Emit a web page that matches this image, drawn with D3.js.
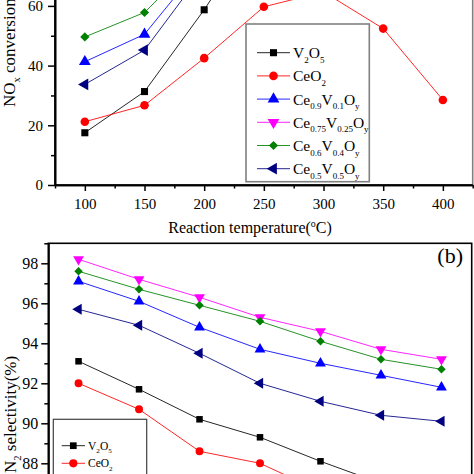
<!DOCTYPE html>
<html><head><meta charset="utf-8">
<script src="https://cdn.jsdelivr.net/npm/d3@7"></script>
<style>html,body{margin:0;padding:0;background:#fff;overflow:hidden}svg{display:block}</style>
</head><body><svg id="c" width="474" height="474"></svg>
<script>
// ---------- data ----------
const temps = [100, 150, 200, 250, 300, 350, 400];
const seriesNames = ["V_{2}O_{5}", "CeO_{2}", "Ce_{0.9}V_{0.1}O_{y}", "Ce_{0.75}V_{0.25}O_{y}", "Ce_{0.6}V_{0.4}O_{y}", "Ce_{0.5}V_{0.5}O_{y}"];
const seriesColors = ["#000000", "#ff0000", "#0000ff", "#ff00ff", "#008000", "#000080"];
const seriesSymbols = ["square", "circle", "triUp", "triDown", "diamond", "triLeft"];

// (a) NOx conversion (%)
const noxV2O5   = [17.5, 31.3, 58.7, 89, 97, 99, 98];
const noxCeO2   = [21.2, 26.7, 42.5, 59.7, 64.7, 52.4, 28.5];
const noxCe09   = [41.3, 50.5, 75, 90, 96, 95, 90];
const noxCe075  = [68, 82, 94, 99, 100, 99, 96];
const noxCe06   = [49.6, 57.8, 77.6, 93, 98, 97, 93];
const noxCe05   = [33.7, 45.2, 72, 88, 94, 92, 85];

// (b) N2 selectivity (%)
const selV2O5   = [93.1, 91.7, 90.2, 89.3, 88.1, 87.0, 86.2];
const selCeO2   = [92.0, 90.7, 88.6, 88.0, 86.6, 85.6, 84.9];
const selCe09   = [97.1, 96.1, 94.8, 93.7, 93.0, 92.4, 91.8];
const selCe075  = [98.2, 97.2, 96.3, 95.3, 94.6, 93.7, 93.2];
const selCe06   = [97.6, 96.7, 95.9, 95.1, 94.1, 93.2, 92.7];
const selCe05   = [95.7, 94.9, 93.5, 92.0, 91.1, 90.4, 90.1];

const xTicks = [100, 150, 200, 250, 300, 350, 400];
const xMinorTicks = [75, 125, 175, 225, 275, 325, 375, 425];
const noxTicks = [0, 20, 40, 60];          // labels visible in the picture
const noxMinorTicks = [10, 30, 50, 70, 90];
const selTicks = [88, 90, 92, 94, 96, 98]; // labels visible in the picture
const selMinorTicks = [87, 89, 91, 93, 95, 97, 99];
const legendBCount = 2;                   // legend entries visible in panel (b)

const noxData = [noxV2O5, noxCeO2, noxCe09, noxCe075, noxCe06, noxCe05];
const selData = [selV2O5, selCeO2, selCe09, selCe075, selCe06, selCe05];

// ---------- drawing ----------
const FONT = "'Liberation Serif','DejaVu Serif',serif";
const svg = d3.select("#c");

function symPath(kind, size) {
  let t = d3.symbolSquare, rot = 0;
  if (kind === "circle") t = d3.symbolCircle;
  if (kind === "triUp") t = d3.symbolTriangle;
  if (kind === "triDown") { t = d3.symbolTriangle; rot = 180; }
  if (kind === "triLeft") { t = d3.symbolTriangle; rot = -90; }
  if (kind === "diamond") { t = d3.symbolSquare; rot = 45; }
  return { d: d3.symbol().type(t).size(size)(), rot };
}
const symSize = { square: 50, circle: 58, triUp: 60, triDown: 60, triLeft: 60, diamond: 42 };

function richText(sel, str, fs, ratio) {
  ratio = ratio || 0.62;
  const parts = str.split(/(_\{[^}]*\}|\^\{[^}]*\})/).filter(s => s.length);
  let pending = 0;
  parts.forEach(p => {
    if (p.startsWith("_{")) {
      const sh = fs * 0.3;
      sel.append("tspan").attr("font-size", fs * ratio).attr("dy", pending + sh).text(p.slice(2, -1));
      pending = -sh;
    } else if (p.startsWith("^{")) {
      const sh = -fs * 0.4;
      sel.append("tspan").attr("font-size", fs * ratio).attr("dy", pending + sh).text(p.slice(2, -1));
      pending = -sh;
    } else {
      sel.append("tspan").attr("font-size", fs).attr("dy", pending).text(p);
      pending = 0;
    }
  });
}

function styleAxis(g, fs) {
  g.select(".domain").attr("stroke", "#000").attr("stroke-width", 1.6);
  g.selectAll(".tick line").attr("stroke", "#000").attr("stroke-width", 1.5);
  g.selectAll(".tick text").attr("font-family", FONT).attr("font-size", fs).attr("fill", "#000");
}

function drawPanel(opts) {
  const { x, y, data, box, yTicks, yMinor, tickFs, yPad, xPad, lineW } = opts;
  const g = svg.append("g");
  g.append("rect").attr("x", box[0]).attr("y", box[1]).attr("width", box[2] - box[0]).attr("height", box[3] - box[1])
    .attr("fill", "none").attr("stroke", opts.frameColor).attr("stroke-width", 1.6);
  if (opts.showX) {
    const gx = g.append("g").attr("transform", `translate(0,${box[3]})`)
      .call(d3.axisBottom(x).tickValues(xTicks).tickFormat(d3.format("d")).tickSize(6).tickSizeOuter(0).tickPadding(xPad));
    styleAxis(gx, tickFs);
    const gxm = g.append("g").attr("transform", `translate(0,${box[3]})`)
      .call(d3.axisBottom(x).tickValues(xMinorTicks).tickFormat("").tickSize(3.5).tickSizeOuter(0));
    styleAxis(gxm, tickFs);
    gxm.selectAll(".tick text").remove();
  }
  const gy = g.append("g").attr("transform", `translate(${box[0]},0)`)
    .call(d3.axisLeft(y).tickValues(yTicks).tickFormat(d3.format("d")).tickSize(7).tickSizeOuter(0).tickPadding(yPad));
  styleAxis(gy, tickFs);
  const gym = g.append("g").attr("transform", `translate(${box[0]},0)`)
    .call(d3.axisLeft(y).tickValues(yMinor).tickFormat("").tickSize(4).tickSizeOuter(0));
  styleAxis(gym, tickFs);
  gym.selectAll(".tick text").remove();

  data.forEach((vals, i) => {
    const pts = temps.map((t, j) => [x(t), y(vals[j])]);
    g.append("path").attr("d", d3.line()(pts)).attr("fill", "none")
      .attr("stroke", seriesColors[i]).attr("stroke-width", lineW).attr("stroke-opacity", 0.85);
    const sp = symPath(seriesSymbols[i], symSize[seriesSymbols[i]] * opts.mScale);
    g.selectAll(null).data(pts).join("path").attr("d", sp.d)
      .attr("transform", p => `translate(${p[0]},${p[1]}) rotate(${sp.rot})`)
      .attr("fill", seriesColors[i]);
  });
  return g;
}

// Panel (a)
const xA = d3.scaleLinear().domain([75, 425]).range([55, 472.7]);
const yA = d3.scaleLinear().domain([0, 100]).range([185, -113.5]);
drawPanel({ x: xA, y: yA, data: noxData, box: [55, -113.5, 472.7, 185], yTicks: noxTicks, yMinor: noxMinorTicks,
  tickFs: 15, yPad: 5, xPad: 7, lineW: 1, frameColor: "#808080", showX: true, mScale: 1 });
svg.append("line").attr("x1", 55).attr("x2", 55).attr("y1", -120).attr("y2", 185.8).attr("stroke", "#000").attr("stroke-width", 1.6);
svg.append("line").attr("x1", 54.2).attr("x2", 472.7).attr("y1", 185).attr("y2", 185).attr("stroke", "#000").attr("stroke-width", 1.6);

// Panel (a) legend
const legA = svg.append("g");
legA.append("rect").attr("x", 246).attr("y", 24).attr("width", 123.3).attr("height", 157.7)
  .attr("fill", "#fff").attr("stroke", "#808080").attr("stroke-width", 1.6);
seriesNames.forEach((nm, i) => {
  const yy = 52.7 + i * 23.2;
  legA.append("line").attr("x1", 257).attr("x2", 290).attr("y1", yy).attr("y2", yy)
    .attr("stroke", seriesColors[i]).attr("stroke-width", 1).attr("stroke-opacity", 0.85);
  const sp = symPath(seriesSymbols[i], symSize[seriesSymbols[i]]);
  legA.append("path").attr("d", sp.d).attr("transform", `translate(273.5,${yy}) rotate(${sp.rot})`).attr("fill", seriesColors[i]);
  const t = legA.append("text").attr("x", 293).attr("y", yy + 5.5).attr("font-family", FONT).attr("fill", "#000");
  richText(t, nm, 15.5, 0.58);
});

// Panel (a) axis titles
const xtA = svg.append("text").attr("x", 250).attr("y", 233).attr("text-anchor", "middle").attr("font-family", FONT).attr("fill", "#000");
richText(xtA, "Reaction temperature(^{o}C)", 16);
const ytA = svg.append("text").attr("transform", "translate(15,107) rotate(-90)").attr("text-anchor", "start").attr("font-family", FONT).attr("fill", "#000");
richText(ytA, "NO_{x} conversion(%)", 17);

// Panel (b)
const xB = d3.scaleLinear().domain([75, 425]).range([48.3, 471.7]);
const yB = d3.scaleLinear().domain([83, 99]).range([563.3, 243.3]);
drawPanel({ x: xB, y: yB, data: selData, box: [48.3, 243.3, 471.7, 563.3], yTicks: selTicks, yMinor: selMinorTicks,
  tickFs: 16, yPad: 3, xPad: 7, lineW: 1, frameColor: "#000", showX: false, mScale: 0.85 });

// Panel (b) legend
const legB = svg.append("g");
legB.append("rect").attr("x", 53.3).attr("y", 419.3).attr("width", 93.4).attr("height", 120)
  .attr("fill", "#fff").attr("stroke", "#404040").attr("stroke-width", 1.2);
seriesNames.slice(0, legendBCount).forEach((nm, i) => {
  const yy = 445.7 + i * 17.6;
  legB.append("line").attr("x1", 61.7).attr("x2", 85).attr("y1", yy).attr("y2", yy)
    .attr("stroke", seriesColors[i]).attr("stroke-width", 1).attr("stroke-opacity", 0.85);
  const sp = symPath(seriesSymbols[i], symSize[seriesSymbols[i]] * 0.9);
  legB.append("path").attr("d", sp.d).attr("transform", `translate(73.3,${yy}) rotate(${sp.rot})`).attr("fill", seriesColors[i]);
  const t = legB.append("text").attr("x", 88).attr("y", yy + 4).attr("font-family", FONT).attr("fill", "#000");
  richText(t, nm, 11.5);
});

// Panel (b) label and axis title
svg.append("text").attr("x", 463).attr("y", 263).attr("text-anchor", "end").attr("font-family", FONT)
  .attr("font-size", 22).attr("fill", "#000").text("(b)");
const ytB = svg.append("text").attr("transform", "translate(16,473) rotate(-90)").attr("text-anchor", "start").attr("font-family", FONT).attr("fill", "#000");
richText(ytB, "N_{2} selectivity(%)", 17);
</script>
</body></html>
